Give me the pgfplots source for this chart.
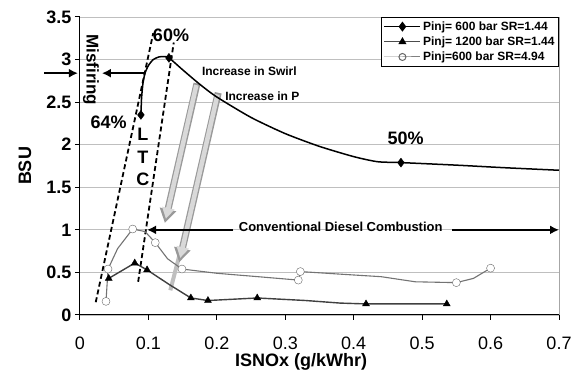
\documentclass[border=0pt]{standalone}
\usepackage{fontspec}
\setmainfont{Liberation Sans}
\usepackage{pgfplots}
\pgfplotsset{compat=1.18}
\usetikzlibrary{arrows.meta}
\newcommand{\fs}[1]{\fontsize{#1}{#1}\selectfont}
\begin{document}
\begin{tikzpicture}
\begin{axis}[
  scale only axis, width=479pt, height=298pt,
  xmin=0, xmax=0.7, ymin=0, ymax=3.5,
  xtick={0,0.1,0.2,0.3,0.4,0.5,0.6,0.7},
  ytick={0,0.5,1,1.5,2,2.5,3,3.5},
  axis x line*=bottom, axis y line*=left,
  axis line style={line width=1pt,-},
  ymajorgrids, grid style={black!25, line width=0.8pt},
  tick align=outside, major tick length=5pt,
  tick style={black, line width=1pt},
  /pgf/number format/assume math mode=true,
  xticklabel style={font=\fs{18}, yshift=-13pt},
  yticklabel style={font=\bfseries\fs{18}},
  clip=false,
  legend image code/.code={\draw[mark repeat=2,mark phase=2,#1] plot coordinates {(0pt,0pt) (18pt,0pt) (36pt,0pt)};},
  legend style={font=\bfseries\fs{12}, at={(1,1)}, anchor=north east,
    draw=black, line width=1pt, inner sep=2pt, row sep=1pt,
    legend cell align=left},
]
\coordinate (SW) at (rel axis cs:0,0);
\coordinate (NE) at (rel axis cs:1,1);
\draw[black!35, line width=1pt] (rel axis cs:1,0) -- (rel axis cs:1,1);

% legend entries
\addlegendimage{black, line width=1.3pt, mark=diamond*, mark size=4pt, mark options={solid, fill=black}}
\addlegendentry{Pinj= 600 bar SR=1.44}
\addlegendimage{black!70, line width=1.2pt, mark=triangle*, mark size=3.5pt, mark options={solid, fill=black, draw=black}}
\addlegendentry{Pinj= 1200 bar SR=1.44}
\addlegendimage{black!50, line width=1pt, mark=o, mark size=3.5pt, mark options={solid, fill=white, draw=black!60}}
\addlegendentry{Pinj=600 bar SR=4.94}

% gray arrows
\draw[black!40, line width=7pt, -{Triangle[length=14pt,width=16pt]}] (axis cs:0.171,2.72) -- (axis cs:0.124,1.08);
\draw[black!15, line width=4.5pt, -{Triangle[length=11pt,width=12pt]}] (axis cs:0.170,2.70) -- (axis cs:0.1255,1.13);
\draw[black!25, line width=4pt] (axis cs:0.150,0.85) -- (axis cs:0.132,0.29);
\draw[black!40, line width=7pt, -{Triangle[length=14pt,width=16pt]}] (axis cs:0.202,2.61) -- (axis cs:0.145,0.62);
\draw[black!15, line width=4.5pt, -{Triangle[length=11pt,width=12pt]}] (axis cs:0.201,2.59) -- (axis cs:0.1465,0.67);

% LTC dashed lines
\draw[black, line width=1.8pt, dash pattern=on 5pt off 3pt] (axis cs:0.023,0.15) -- (axis cs:0.107,3.31);
\draw[black, line width=1.8pt, dash pattern=on 5pt off 3pt] (axis cs:0.085,0.39) -- (axis cs:0.137,3.20);

% series 1: diamonds
\addplot[black, line width=1.5pt, smooth, tension=0.4, forget plot] coordinates {
(0.089,2.35) (0.090,2.55) (0.092,2.72) (0.095,2.84) (0.100,2.93) (0.107,3.00)
(0.115,3.03) (0.122,3.035) (0.130,3.02) (0.150,2.88) (0.175,2.71) (0.200,2.56)
(0.250,2.32) (0.300,2.13) (0.350,1.98) (0.400,1.86) (0.435,1.80) (0.469,1.79)
(0.550,1.76) (0.620,1.73) (0.700,1.70)};
\addplot[only marks, mark=diamond*, mark size=4.5pt, black, forget plot] coordinates {
(0.089,2.35) (0.130,3.02) (0.469,1.79)};

% series 2: triangles
\addplot[black!75, line width=1.4pt, forget plot] coordinates {
(0.042,0.43) (0.080,0.61) (0.098,0.53) (0.130,0.36) (0.162,0.20) (0.187,0.17)
(0.259,0.20) (0.330,0.17) (0.380,0.14) (0.418,0.13) (0.536,0.13)};
\addplot[only marks, mark=triangle*, mark size=4pt, black, forget plot] coordinates {
(0.042,0.43) (0.080,0.61) (0.098,0.53) (0.162,0.20) (0.187,0.17)
(0.259,0.20) (0.418,0.13) (0.536,0.13)};

% series 3: open circles
\addplot[black!55, line width=1.1pt, forget plot] coordinates {
(0.038,0.16) (0.041,0.54) (0.055,0.78) (0.077,1.01) (0.095,0.98) (0.110,0.85)
(0.128,0.66) (0.149,0.54) (0.200,0.49) (0.260,0.45) (0.319,0.41) (0.322,0.51)
(0.380,0.48) (0.440,0.45) (0.490,0.39) (0.550,0.38) (0.575,0.43) (0.600,0.55)};
\addplot[only marks, mark=*, mark size=4pt, draw=black!60, fill=white, forget plot] coordinates {
(0.038,0.16) (0.041,0.54) (0.077,1.01) (0.110,0.85) (0.149,0.54)
(0.319,0.41) (0.322,0.51) (0.550,0.38) (0.600,0.55)};

% black arrows
\draw[black, line width=2.5pt, -{Latex[length=9pt,width=9pt]}] (axis cs:-0.052,2.84) -- (axis cs:-0.003,2.84);
\draw[black, line width=2.5pt, -{Latex[length=9pt,width=9pt]}] (axis cs:0.094,2.84) -- (axis cs:0.032,2.84);
\draw[black, line width=2.5pt, -{Latex[length=9pt,width=9pt]}] (axis cs:0.224,1.0) -- (axis cs:0.098,1.0);
\draw[black, line width=2.5pt, -{Latex[length=9pt,width=9pt]}] (axis cs:0.544,1.0) -- (axis cs:0.700,1.0);

% texts
\node[font=\bfseries\fs{18}] at (axis cs:0.133,3.29) {60\%};
\node[font=\bfseries\fs{18}] at (axis cs:0.042,2.26) {64\%};
\node[font=\bfseries\fs{18}] at (axis cs:0.476,2.07) {50\%};
\node[font=\bfseries\fs{18}] at (axis cs:0.092,2.12) {L};
\node[font=\bfseries\fs{18}] at (axis cs:0.092,1.85) {T};
\node[font=\bfseries\fs{18}] at (axis cs:0.092,1.59) {C};
\node[font=\bfseries\fs{17}, rotate=-90] at (axis cs:0.016,2.88) {Misfiring};
\node[font=\bfseries\fs{12}, anchor=west, inner sep=0pt] at (axis cs:0.178,2.86) {Increase in Swirl};
\node[font=\bfseries\fs{12}, anchor=west, inner sep=0pt] at (axis cs:0.212,2.57) {Increase in P};
\node[font=\bfseries\fs{13}] at (axis cs:0.381,1.03) {Conventional Diesel Combustion};

% axis labels
\node[font=\bfseries\fs{18}, rotate=90] at ([xshift=-55pt]rel axis cs:0,0.5) {BSU};
\node[font=\bfseries\fs{18}] at ([yshift=-47pt]axis cs:0.323,0) {ISNOx (g/kWhr)};
\end{axis}
\pgfresetboundingbox
\path[use as bounding box] ([shift={(-80pt,-61pt)}]SW) rectangle ([shift={(20pt,17pt)}]NE);
\end{tikzpicture}
\end{document}
